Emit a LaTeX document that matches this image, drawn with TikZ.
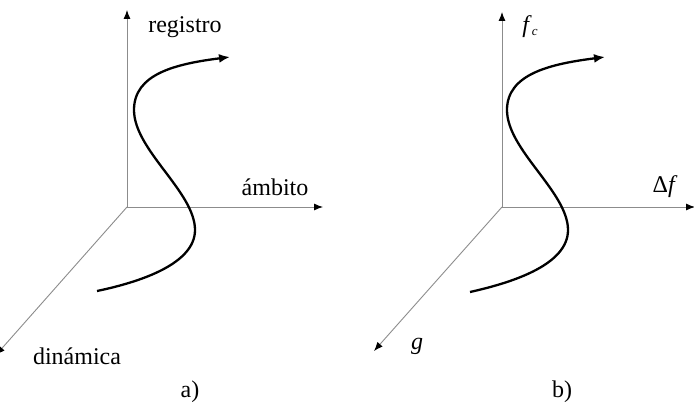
\documentclass[tikz,border=0pt]{standalone}
\usepackage{fontspec}
\setmainfont{Liberation Serif}
\usetikzlibrary{arrows.meta}
\tikzset{
  axis/.style={draw=black!45, line width=0.9pt, -{Latex[length=9pt,width=7pt,black]}},
  path3d/.style={draw=black, line width=2.3pt, -{Latex[length=11pt,width=9pt]}},
  lbl/.style={font=\fontsize{24}{28}\selectfont, inner sep=0pt, anchor=center}
}
\begin{document}
\begin{tikzpicture}[x=1pt,y=-1pt]
\useasboundingbox (0,0) rectangle (694,404);
\clip (0,0) rectangle (694,404);
\fill[white] (0,0) rectangle (694,404);
% panel a
\coordinate (Oa) at (127,207);
\coordinate (Ya) at (127,10);
\coordinate (Xa) at (323,207);
\coordinate (Za) at (-4,355);
\draw[axis] (Oa) -- (Ya);
\draw[axis] (Oa) -- (Xa);
\draw[axis] (Oa) -- (Za);
\coordinate (Sa) at (97,291);
\coordinate (Ea) at (230,57);
\draw[path3d] (Sa) .. controls (140,282) and (195,264) .. (195,230)
  .. controls (195,192) and (134,150) .. (134,110)
  .. controls (134,74) and (175,64) .. (Ea);
\node[lbl] (reg) at (185,27) {registro};
\node[lbl] (amb) at (275,187) {ámbito};
\node[lbl] (din) at (77,356) {dinámica};
\node[lbl] (la) at (190,392) {a)};
% panel b
\begin{scope}[xshift=375pt]
\coordinate (Ob) at (127,207);
\coordinate (Yb) at (127,12);
\coordinate (Xb) at (320,207);
\coordinate (Zb) at (-1,351);
\draw[axis] (Ob) -- (Yb);
\draw[axis] (Ob) -- (Xb);
\draw[axis] (Ob) -- (Zb);
\coordinate (Sb) at (95,292);
\coordinate (Eb) at (230,57);
\draw[path3d] (Sb) .. controls (140,282) and (193,264) .. (193,230)
  .. controls (193,192) and (132,150) .. (132,110)
  .. controls (132,74) and (175,64) .. (Eb);
\node[lbl] (fc) at (155,27) {\textit{f}\raisebox{-0.25ex}{\fontsize{13}{14}\selectfont\textit{c}}};
\node[lbl] (df) at (290,187) {Δ\textit{f}};
\node[lbl] (g) at (42,346) {\textit{g}};
\node[lbl] (lb) at (187,392) {b)};
\end{scope}
\end{tikzpicture}
\end{document}
